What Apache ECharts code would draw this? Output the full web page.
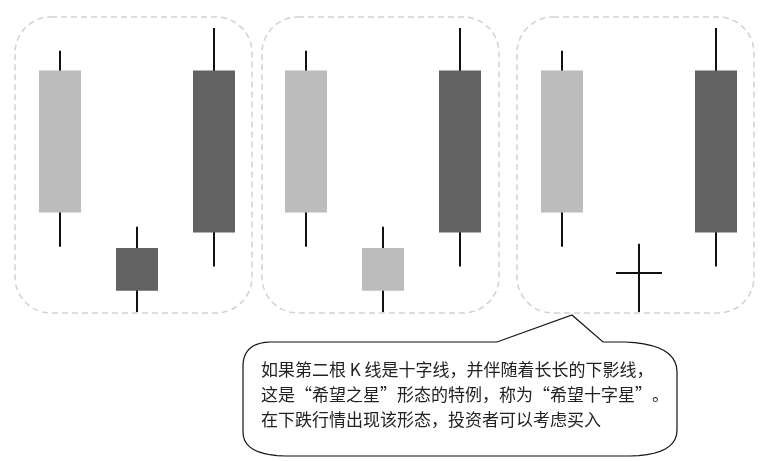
<!DOCTYPE html>
<html>
<head>
<meta charset="utf-8">
<title>希望十字星</title>
<script src="https://cdn.jsdelivr.net/npm/echarts@6.0.0/dist/echarts.min.js"></script>
<style>
  html,body{margin:0;padding:0;background:#ffffff;}
  #main{width:766px;height:461px;}
</style>
</head>
<body>
<div id="main"></div>
<script>
// 每组里的三根K线位置
const candleSlots = ['第一根', '第二根', '第三根'];

// 数据格式 [开盘, 收盘, 最低, 最高]
const firstCandle = [85, 35, 23, 92];      // 长阴线
const thirdCandle = [28, 85, 16, 100];     // 长阳线
const starUp = [7.5, 22.5, 0, 30];         // 第一组: 阳线星
const starDown = [22.5, 7.5, 0, 30];       // 第二组: 阴线星
const starDoji = [13.7, 13.7, 0, 24];      // 第三组: 十字星

const groupA = [firstCandle, starUp, thirdCandle];
const groupB = [firstCandle, starDown, thirdCandle];
const groupC = [firstCandle, starDoji, thirdCandle];

// 说明文字
const noteLines = [
  '如果第二根 K 线是十字线，并伴随着长长的下影线，',
  '这是“希望之星”形态的特例，称为“希望十字星”。',
  '在下跌行情出现该形态，投资者可以考虑买入'
];

const UP_COLOR = '#626262';
const DOWN_COLOR = '#bcbcbc';
const WICK_COLOR = '#111111';

// 自定义K线: 影线黑色, 实体无描边
function renderCandle(params, api) {
  const idx = api.value(0);
  const open = api.value(1), close = api.value(2);
  const low = api.value(3), high = api.value(4);
  const pHigh = api.coord([idx, high]);
  const pLow = api.coord([idx, low]);
  const pOpen = api.coord([idx, open]);
  const pClose = api.coord([idx, close]);
  const band = api.size([1, 0])[0];
  const cx = Math.round(pHigh[0]);
  const children = [{
    type: 'line',
    shape: {x1: cx, y1: pHigh[1], x2: cx, y2: pLow[1]},
    style: {stroke: WICK_COLOR, lineWidth: 2}
  }];
  if (open === close) {
    // 十字线
    const hw = band * 0.3;
    children.push({
      type: 'line',
      shape: {x1: cx - hw, y1: pOpen[1], x2: cx + hw, y2: pOpen[1]},
      style: {stroke: WICK_COLOR, lineWidth: 2}
    });
  } else {
    const w = Math.round(band * 0.55);
    const top = Math.min(pOpen[1], pClose[1]);
    children.push({
      type: 'rect',
      shape: {x: cx - w / 2, y: top, width: w, height: Math.abs(pOpen[1] - pClose[1])},
      style: {fill: close > open ? UP_COLOR : DOWN_COLOR}
    });
  }
  return {type: 'group', children: children};
}

const gridLefts = [22, 268, 524];
const groups = [groupA, groupB, groupC];

const grids = [], xAxes = [], yAxes = [], series = [];
groups.forEach(function (g, i) {
  grids.push({left: gridLefts[i], top: 28, width: 230, height: 284});
  xAxes.push({type: 'category', gridIndex: i, data: candleSlots, show: false});
  yAxes.push({type: 'value', gridIndex: i, min: 0, max: 100, show: false});
  series.push({
    type: 'custom',
    xAxisIndex: i,
    yAxisIndex: i,
    renderItem: renderCandle,
    encode: {x: 0, y: [1, 2, 3, 4]},
    data: g.map(function (d, k) { return [k].concat(d); }),
    silent: true
  });
});

// 虚线圆角框
const frameStyle = {fill: 'none', stroke: '#d2d2d2', lineWidth: 1.5, lineDash: [6, 4]};
const frames = [15, 262, 517].map(function (x) {
  return {type: 'rect', shape: {x: x, y: 17, width: 237, height: 296, r: 36}, style: frameStyle, z: 1};
});

// 对话框轮廓: 直线段 + 二次曲线圆角, 采样成折线
function quad(p0, c, p1, pts) {
  for (let t = 0.1; t <= 1.0001; t += 0.1) {
    const a = (1 - t) * (1 - t), b = 2 * (1 - t) * t, d = t * t;
    pts.push([a * p0[0] + b * c[0] + d * p1[0], a * p0[1] + b * c[1] + d * p1[1]]);
  }
}
const bubblePts = [[270, 342], [497, 342], [572, 315], [603, 342], [625, 342]];
quad([625, 342], [677, 344], [677, 372], bubblePts);
bubblePts.push([677, 430]);
quad([677, 430], [677, 455], [630, 456], bubblePts);
bubblePts.push([285, 456]);
quad([285, 456], [243, 455], [243, 432], bubblePts);
bubblePts.push([243, 366]);
quad([243, 366], [243, 343], [270, 342], bubblePts);

const bubble = {
  type: 'polygon',
  shape: {points: bubblePts},
  style: {fill: '#ffffff', stroke: '#111111', lineWidth: 1.2},
  z: 2
};

const texts = noteLines.map(function (t, i) {
  return {
    type: 'text',
    x: 261,
    y: 370 + i * 25,
    style: {
      text: t,
      fill: '#222222',
      font: '17px "Noto Sans CJK SC", "Liberation Serif", serif',
      textVerticalAlign: 'middle'
    },
    z: 3
  };
});

const myChart = echarts.init(document.getElementById('main'));
myChart.setOption({
  animation: false,
  grid: grids,
  xAxis: xAxes,
  yAxis: yAxes,
  series: series,
  graphic: frames.concat([bubble]).concat(texts)
});
</script>
</body>
</html>
